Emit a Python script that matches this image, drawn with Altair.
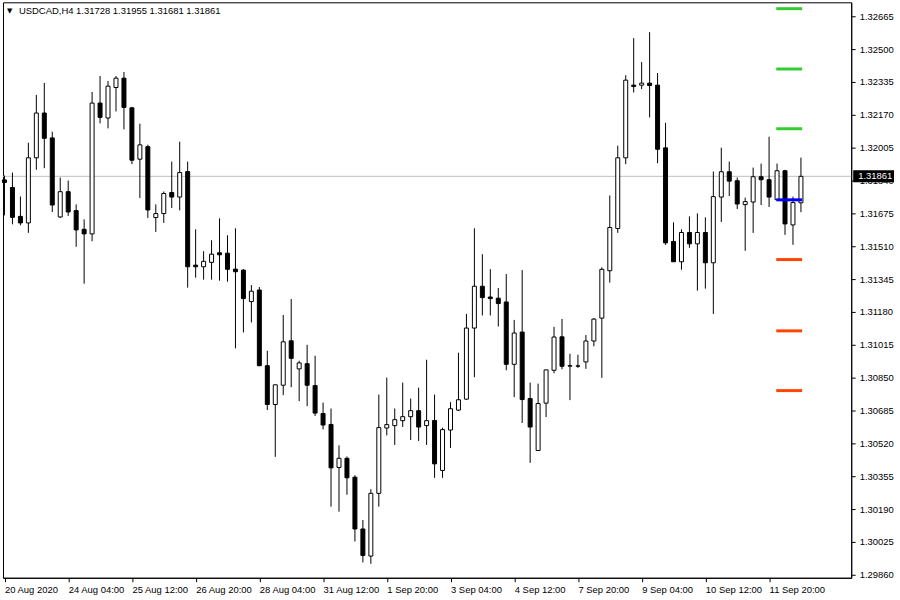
import altair as alt
import pandas as pd

# USDCAD H4 candles (bar index 0 = oldest visible bar)
symbol = "USDCAD"
timeframe = "H4"

opens = [1.31843, 1.31805, 1.31660, 1.31627, 1.31954, 1.32179, 1.32054, 1.31657, 1.31784, 1.31689,
         1.31595, 1.31572, 1.32229, 1.32154, 1.32307, 1.32354, 1.32205, 1.31947, 1.32010, 1.31654,
         1.31674, 1.31780, 1.31757, 1.31885, 1.31415, 1.31407, 1.31429, 1.31477, 1.31475, 1.31395,
         1.31390, 1.31232, 1.31290, 1.30910, 1.30715, 1.30812, 1.31035, 1.30894, 1.30920, 1.30810,
         1.30670, 1.30615, 1.30399, 1.30445, 1.30350, 1.30090, 1.29954, 1.30269, 1.30597, 1.30609,
         1.30634, 1.30654, 1.30684, 1.30609, 1.30635, 1.30384, 1.30587, 1.30687, 1.30742, 1.31099,
         1.31309, 1.31255, 1.31249, 1.31230, 1.30917, 1.31079, 1.30745, 1.30484, 1.30722, 1.30887,
         1.31055, 1.30910, 1.30909, 1.30929, 1.31034, 1.31149, 1.31387, 1.31599, 1.31954, 1.32319,
         1.32319, 1.32329, 1.32319, 1.32004, 1.31534, 1.31432, 1.31579, 1.31522, 1.31579, 1.31427,
         1.31757, 1.31884, 1.31839, 1.31719, 1.31732, 1.31859, 1.31844, 1.31744, 1.31889, 1.31617,
         1.31728]

highs = [1.31865, 1.31880, 1.31760, 1.32030, 1.32270, 1.32330, 1.32085, 1.31855, 1.31840, 1.31720,
         1.31645, 1.32285, 1.32365, 1.32340, 1.32365, 1.32385, 1.32210, 1.32125, 1.32020, 1.31720,
         1.31785, 1.31935, 1.32035, 1.31935, 1.31595, 1.31485, 1.31540, 1.31650, 1.31565, 1.31600,
         1.31395, 1.31315, 1.31305, 1.30985, 1.30815, 1.31165, 1.31245, 1.30935, 1.31015, 1.30960,
         1.30725, 1.30695, 1.30510, 1.30454, 1.30360, 1.30135, 1.30290, 1.30765, 1.30850, 1.30695,
         1.30825, 1.30745, 1.30800, 1.30940, 1.30765, 1.30599, 1.30727, 1.30975, 1.31170, 1.31600,
         1.31470, 1.31395, 1.31300, 1.31370, 1.31140, 1.31390, 1.30825, 1.30820, 1.30889, 1.31105,
         1.31145, 1.30970, 1.30965, 1.31064, 1.31149, 1.31404, 1.31765, 1.32015, 1.32369, 1.32555,
         1.32435, 1.32585, 1.32380, 1.32130, 1.31630, 1.31595, 1.31660, 1.31675, 1.31655, 1.31885,
         1.32005, 1.31935, 1.31855, 1.31754, 1.31905, 1.31925, 1.32060, 1.31925, 1.31894, 1.31759,
         1.31955]

lows = [1.31665, 1.31620, 1.31615, 1.31577, 1.31894, 1.31902, 1.31682, 1.31652, 1.31662, 1.31507,
        1.31322, 1.31535, 1.32127, 1.32102, 1.32187, 1.32097, 1.31922, 1.31752, 1.31652, 1.31582,
        1.31627, 1.31702, 1.31690, 1.31302, 1.31352, 1.31342, 1.31342, 1.31337, 1.31332, 1.30997,
        1.31077, 1.31127, 1.30907, 1.30687, 1.30452, 1.30762, 1.30802, 1.30732, 1.30707, 1.30657,
        1.30590, 1.30202, 1.30177, 1.30262, 1.30027, 1.29922, 1.29915, 1.30202, 1.30560, 1.30512,
        1.30602, 1.30537, 1.30532, 1.30512, 1.30347, 1.30347, 1.30497, 1.30682, 1.30739, 1.30852,
        1.31162, 1.31162, 1.31107, 1.30887, 1.30752, 1.30622, 1.30422, 1.30484, 1.30652, 1.30872,
        1.30892, 1.30737, 1.30899, 1.30894, 1.31007, 1.30849, 1.31327, 1.31577, 1.31922, 1.32282,
        1.32299, 1.32157, 1.31927, 1.31517, 1.31432, 1.31392, 1.31502, 1.31287, 1.31297, 1.31170,
        1.31632, 1.31762, 1.31697, 1.31487, 1.31577, 1.31717, 1.31707, 1.31744, 1.31567, 1.31517,
        1.31681]

closes = [1.31830, 1.31655, 1.31627, 1.31954, 1.32179, 1.32052, 1.31717, 1.31784, 1.31682, 1.31592,
          1.31572, 1.32229, 1.32157, 1.32314, 1.32354, 1.32207, 1.31942, 1.32019, 1.31692, 1.31674,
          1.31775, 1.31757, 1.31880, 1.31407, 1.31407, 1.31434, 1.31470, 1.31467, 1.31394, 1.31382,
          1.31247, 1.31284, 1.30910, 1.30715, 1.30814, 1.31030, 1.30947, 1.30924, 1.30812, 1.30672,
          1.30612, 1.30397, 1.30445, 1.30347, 1.30090, 1.29957, 1.30269, 1.30599, 1.30614, 1.30639,
          1.30654, 1.30684, 1.30602, 1.30634, 1.30417, 1.30589, 1.30694, 1.30739, 1.31099, 1.31309,
          1.31252, 1.31247, 1.31222, 1.30917, 1.31074, 1.30740, 1.30602, 1.30720, 1.30889, 1.31054,
          1.30907, 1.30908, 1.30908, 1.31034, 1.31144, 1.31394, 1.31604, 1.31954, 1.32344, 1.32312,
          1.32329, 1.32317, 1.31997, 1.31527, 1.31432, 1.31579, 1.31522, 1.31579, 1.31427, 1.31759,
          1.31884, 1.31837, 1.31722, 1.31734, 1.31859, 1.31844, 1.31757, 1.31889, 1.31622, 1.31729,
          1.31861]

# time axis labels, one every 8 bars
time_labels = ["20 Aug 2020", "24 Aug 04:00", "25 Aug 12:00", "26 Aug 20:00", "28 Aug 04:00",
               "31 Aug 12:00", "1 Sep 20:00", "3 Sep 04:00", "4 Sep 12:00", "7 Sep 20:00",
               "9 Sep 04:00", "10 Sep 12:00", "11 Sep 20:00"]
label_step = 8

# price scale ticks
price_ticks = [1.32665, 1.32500, 1.32335, 1.32170, 1.32005, 1.31840, 1.31675, 1.31510, 1.31345,
               1.31180, 1.31015, 1.30850, 1.30685, 1.30520, 1.30355, 1.30190, 1.30025, 1.29860]

# horizontal levels drawn at the right edge
resistance_levels = [1.32703, 1.32400, 1.32100]
support_levels = [1.31443, 1.31085, 1.30785]
pivot_levels = [1.31743]

FONT = "Liberation Sans"
PLOT_W, PLOT_H = 852, 578
X_DOMAIN = [-0.1875, 106.3125]
Y_DOMAIN = [1.29845, 1.32735]

bars = pd.DataFrame({
    "i": list(range(len(opens))),
    "open": opens, "high": highs, "low": lows, "close": closes,
})
bars["dir"] = ["up" if c > o else "down" for o, c in zip(opens, closes)]

label_expr = "[" + ",".join("'%s'" % s for s in time_labels) + "][round(datum.value / %d)]" % label_step

xscale = alt.Scale(domain=X_DOMAIN, nice=False, zero=False, padding=0)
yscale = alt.Scale(domain=Y_DOMAIN, nice=False, zero=False, padding=0)

x_axis = alt.Axis(values=[k * label_step for k in range(len(time_labels))], labelExpr=label_expr,
                  labelAlign="left", labelBaseline="top", labelPadding=3,
                  tickSize=4, labelOverlap=False, labelFlush=False, grid=False, title=None)
y_axis = alt.Axis(orient="right", values=price_ticks, format=".5f", tickSize=4, labelPadding=4,
                  labelOverlap=False, labelFlush=False, grid=False, title=None)

base = alt.Chart(bars)

last_close = closes[-1]
price_df = pd.DataFrame({"p": [last_close]})

price_line = alt.Chart(price_df).mark_rule(color="#c0c0c0", strokeWidth=1).encode(
    y=alt.Y("p:Q", scale=yscale, axis=y_axis)
)

wicks = base.mark_rule(color="black", strokeWidth=1).encode(
    x=alt.X("i:Q", scale=xscale, axis=x_axis),
    y=alt.Y("low:Q", scale=yscale, axis=y_axis),
    y2="high:Q",
)

bodies = base.mark_bar(size=4, stroke="black", strokeWidth=1).encode(
    x=alt.X("i:Q", scale=xscale, axis=x_axis),
    y=alt.Y("open:Q", scale=yscale, axis=y_axis),
    y2="close:Q",
    color=alt.Color("dir:N", scale=alt.Scale(domain=["up", "down"], range=["white", "black"]),
                    legend=None),
)

seg_from, seg_to = 96.9, 100.15
levels = pd.DataFrame({
    "p": resistance_levels + support_levels + pivot_levels,
    "c": ["#33CC33"] * len(resistance_levels) + ["#FF4500"] * len(support_levels)
         + ["#0000FF"] * len(pivot_levels),
})
levels["x0"] = seg_from
levels["x1"] = seg_to

level_marks = alt.Chart(levels).mark_rule(strokeWidth=3).encode(
    x=alt.X("x0:Q", scale=xscale, axis=x_axis),
    x2="x1:Q",
    y=alt.Y("p:Q", scale=yscale, axis=y_axis),
    color=alt.Color("c:N", scale=None),
)

price_tag = alt.Chart(price_df).mark_rule(color="black", strokeWidth=12, strokeCap="butt").encode(
    x=alt.value(PLOT_W + 2), x2=alt.value(PLOT_W + 43),
    y=alt.Y("p:Q", scale=yscale, axis=y_axis),
)
price_tag_text = alt.Chart(price_df).transform_calculate(
    t="format(datum.p, '.5f')"
).mark_text(color="white", font=FONT, fontSize=9.5, align="left", baseline="middle").encode(
    x=alt.value(PLOT_W + 7),
    y=alt.Y("p:Q", scale=yscale, axis=y_axis),
    text="t:N",
)

header = "%s,%s  %.5f %.5f %.5f %.5f" % (symbol, timeframe, opens[-1], highs[-1], lows[-1], closes[-1])
header_df = pd.DataFrame({"t": [header]})
header_text = alt.Chart(header_df).mark_text(
    font=FONT, fontSize=9.5, align="left", baseline="middle", color="black"
).encode(x=alt.value(16), y=alt.value(9), text="t:N")
arrow = alt.Chart(pd.DataFrame({"t": ["\u25BC"]})).mark_text(
    font="DejaVu Sans", fontSize=7, align="left", baseline="middle", color="black"
).encode(x=alt.value(4), y=alt.value(9), text="t:N")

chart = alt.layer(
    price_line, wicks, bodies, level_marks, price_tag, price_tag_text, header_text, arrow
).properties(
    width=PLOT_W, height=PLOT_H,
    padding={"left": 2, "top": 1, "right": 0, "bottom": 0},
    background="white",
).configure_view(
    stroke="black", strokeWidth=1
).configure_axis(
    labelFont=FONT, labelFontSize=9.5, labelColor="black",
    domainColor="black", tickColor="black", domainWidth=1, tickWidth=1,
)

chart.save("out.html", embed_options={"renderer": "svg", "actions": False})
